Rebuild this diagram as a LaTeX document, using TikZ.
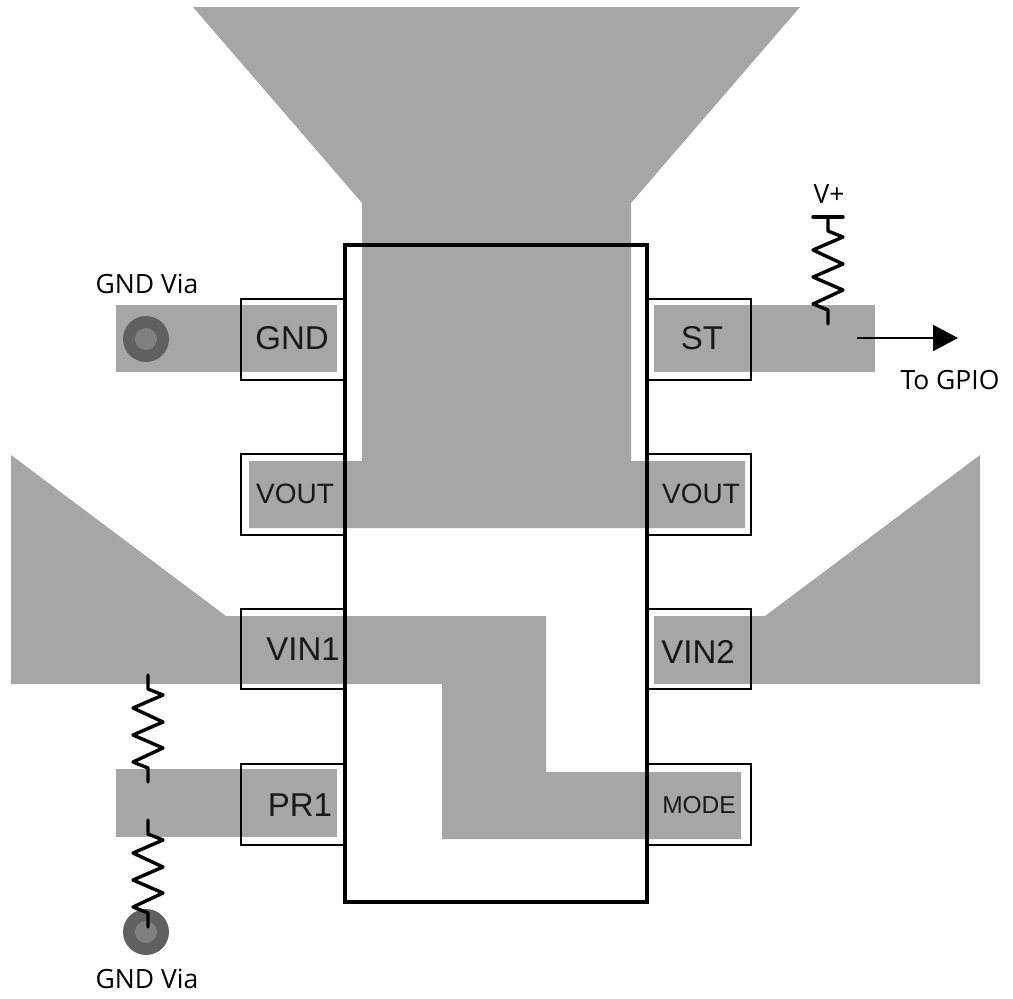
\documentclass[tikz,border=0pt]{standalone}
\usepackage{fontspec}
\setmainfont{Liberation Sans}
\newfontfamily\notefont{Open Sans}
\usetikzlibrary{arrows.meta}
\definecolor{copper}{HTML}{A6A6A6}
\definecolor{viaouter}{HTML}{606060}
\definecolor{viainner}{HTML}{808080}
\tikzset{
  x=1pt,y=-1pt,
  trace/.style={fill=copper,draw=none},
  pinbox/.style={draw=black,line width=2.6pt,line join=miter},
  bodybox/.style={draw=black,line width=4pt,line join=miter},
  resistor/.style={draw=black,line width=3.4pt,line join=round,line cap=round},
  pinlabel/.style={font=\fontsize{33}{33}\selectfont,inner sep=0pt,text=black!90},
  smalllabel/.style={font=\fontsize{28}{28}\selectfont,inner sep=0pt,text=black!90},
  tinylabel/.style={font=\fontsize{24.5}{24.5}\selectfont,inner sep=0pt,text=black!90},
  note/.style={font=\notefont\fontsize{26.5}{26.5}\selectfont,inner sep=0pt,text=black},
  viaout/.style={circle,fill=viaouter,draw=none,minimum size=46pt,inner sep=0pt},
  viain/.style={circle,fill=viainner,draw=none,minimum size=22pt,inner sep=0pt}
}
\newcommand{\zigzag}[2]{% centre x, top y
  (#1,#2) -- (#1,#2+14) -- (#1+15,#2+20) -- (#1-15,#2+33) -- (#1+15,#2+47)
  -- (#1-15,#2+60) -- (#1+15,#2+73) -- (#1-15,#2+87) -- (#1,#2+93) -- (#1,#2+107)}
\begin{document}
\begin{tikzpicture}
\useasboundingbox (0,0) rectangle (1013,999);
% copper
\fill[trace] (193,7) -- (800,7) -- (631,203) -- (631,461) -- (745,461) -- (745,528)
  -- (249,528) -- (249,461) -- (362,461) -- (362,203) -- cycle;
\fill[trace] (116,305) rectangle (337,372);
\fill[trace] (654,305) rectangle (875,372);
\fill[trace] (11,455) -- (226,616) -- (546,616) -- (546,772) -- (741,772) -- (741,839)
  -- (442,839) -- (442,684) -- (11,684) -- cycle;
\fill[trace] (980,455) -- (765,616) -- (654,616) -- (654,684) -- (980,684) -- cycle;
\fill[trace] (116,769) rectangle (337,837);
% vias
\node[viaout] (viaA) at (146,339) {};
\node[viain] (viaAc) at (146,339) {};
\node[viaout] (viaB) at (146,932) {};
\node[viain] (viaBc) at (146,932) {};
% pin boxes
\foreach \ya/\yb in {299/380,454/535,609/689,764/845}{
  \draw[pinbox] (345,\ya) -- (241,\ya) -- (241,\yb) -- (345,\yb);
  \draw[pinbox] (647,\ya) -- (751,\ya) -- (751,\yb) -- (647,\yb);
}
% package
\draw[bodybox] (345,245) rectangle (647,902);
% resistors
\draw[resistor] (813,217) -- (843,217);
\draw[resistor] \zigzag{828}{217};
\draw[resistor] \zigzag{148}{675};
\draw[resistor] \zigzag{148}{820};
% pin labels
\node[pinlabel] (gnd) at (292,338) {GND};
\node[smalllabel] (voutl) at (295,494) {VOUT};
\node[pinlabel] (vina) at (303,649) {VIN1};
\node[pinlabel] (pr) at (300,805) {PR1};
\node[pinlabel] (st) at (702,338) {ST};
\node[smalllabel] (voutr) at (701,494) {VOUT};
\node[pinlabel] (vinb) at (698,652) {VIN2};
\node[tinylabel] (mode) at (699,805) {MODE};
% notes
\node[note] (gv1) at (147,284) {GND Via};
\node[note] (gv2) at (147,979) {GND Via};
\node[note] (vp) at (829,194) {V+};
\node[note] (gpio) at (950,380) {To GPIO};
% output arrow
\coordinate (arrowstart) at (857,338);
\coordinate (arrowend) at (958,338);
\draw[line width=2pt,-{Triangle[length=25pt,width=26pt]}] (arrowstart) -- (arrowend);
\end{tikzpicture}
\end{document}
